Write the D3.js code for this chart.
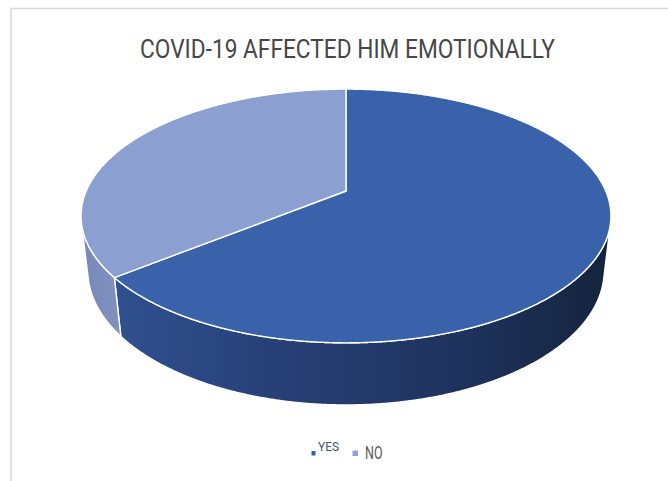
<!DOCTYPE html>
<html>
<head>
<meta charset="utf-8">
<script src="https://cdn.jsdelivr.net/npm/d3@7"></script>
<style>
  html, body { margin: 0; padding: 0; background: #ffffff; }
  svg { display: block; }
</style>
</head>
<body>
<svg id="chart" width="668" height="481"></svg>
<script>
// Survey answers, share of respondents (%)
const categories = ["YES", "NO"];
const values = [64.3, 35.7];
const chartTitle = "COVID-19 AFFECTED HIM EMOTIONALLY";

// Slice colours: top face and side wall
const topColors = ["#3a62aa", "#8c9fd1"];
const sideStops = [
  [["0%", "#30508f"], ["35%", "#263f75"], ["70%", "#1e325c"], ["100%", "#15233c"]],
  [["0%", "#7888b6"], ["100%", "#8292c0"]]
];
const legendColors = ["#3560a8", "#8fa3d6"];

const svg = d3.select("#chart");

// Chart area frame
svg.append("rect")
  .attr("x", 11).attr("y", 8.5)
  .attr("width", 740).attr("height", 520)
  .attr("fill", "none")
  .attr("stroke", "#d9d9d9")
  .attr("stroke-width", 1.6);

// Title
svg.append("text")
  .attr("x", 347.5).attr("y", 58)
  .attr("text-anchor", "middle")
  .attr("font-family", "Roboto, 'Liberation Sans', sans-serif")
  .attr("font-size", 25)
  .attr("fill", "#474747")
  .attr("textLength", 415)
  .attr("lengthAdjust", "spacingAndGlyphs")
  .text(chartTitle);

// ---- 3-D pie: unit cylinder seen in perspective from above ----
const view = {
  cx: 346, cy: 191,          // screen position of the pie centre
  focal: 1165,               // focal length in px
  tilt: 28 * Math.PI / 180,  // camera elevation
  dist: 4.485,               // camera distance (in radii)
  thickness: 0.241           // cylinder height (in radii)
};
const sT = Math.sin(view.tilt), cT = Math.cos(view.tilt);

// x: right, y: away from viewer, z: up
function project(x, y, z) {
  const yc = y * sT + z * cT;
  const zc = y * cT - z * sT + view.dist;
  return [view.cx + view.focal * x / zc, view.cy - view.focal * yc / zc];
}
// point on the rim at pie angle t (clockwise from 12 o'clock)
const rim = (t, z) => project(Math.sin(t), Math.cos(t), z);
const bottomZ = -view.thickness;

const arcs = d3.pie().sort(null).value(d => d)(values);

// Angular range where the outer wall faces the viewer
const step = Math.PI / 720;
function wallFacing(t) {
  const a = rim(t - step, 0), b = rim(t + step, 0);
  const top = rim(t, 0), bot = rim(t, bottomZ);
  const tx = b[0] - a[0], ty = b[1] - a[1];
  const gx = bot[0] - top[0], gy = bot[1] - top[1];
  return tx * gy - ty * gx < 0;
}
const samples = d3.range(0, 2 * Math.PI, step / 2).filter(wallFacing);
const visStart = d3.min(samples), visEnd = d3.max(samples);

function arcPoints(a, b, z) {
  const n = Math.max(2, Math.ceil((b - a) / step));
  return d3.range(n + 1).map(i => rim(a + (b - a) * i / n, z));
}

const line = d3.line().curve(d3.curveLinear);

// Gradients for the side walls
const defs = svg.append("defs");
sideStops.forEach((stops, i) => {
  const g = defs.append("linearGradient")
    .attr("id", "side-" + i)
    .attr("gradientUnits", "userSpaceOnUse")
    .attr("x1", i === 0 ? 112 : 80).attr("x2", i === 0 ? 612 : 122)
    .attr("y1", 0).attr("y2", 0);
  stops.forEach(([o, c]) => g.append("stop").attr("offset", o).attr("stop-color", c));
});

const pieG = svg.append("g");

// Side walls
arcs.forEach((p, i) => {
  const a = Math.max(p.startAngle, visStart);
  const b = Math.min(p.endAngle, visEnd);
  if (a >= b) return;
  const pts = arcPoints(a, b, 0).concat(arcPoints(a, b, bottomZ).reverse());
  pieG.append("path")
    .attr("d", line(pts) + "Z")
    .attr("fill", `url(#side-${i})`)
    .attr("stroke", "#ffffff")
    .attr("stroke-width", 1.4)
    .attr("stroke-linejoin", "round");
});

// Top faces
const centre = project(0, 0, 0);
arcs.forEach((p, i) => {
  const pts = [centre].concat(arcPoints(p.startAngle, p.endAngle, 0));
  pieG.append("path")
    .attr("d", line(pts) + "Z")
    .attr("fill", topColors[i])
    .attr("stroke", "#ffffff")
    .attr("stroke-width", 1.4)
    .attr("stroke-linejoin", "round");
});

// Legend
const legend = svg.append("g").attr("font-family", "Roboto, 'Liberation Sans', sans-serif");
legend.append("rect").attr("x", 311.5).attr("y", 451).attr("width", 4).attr("height", 4.5)
  .attr("fill", legendColors[0]);
legend.append("text").attr("x", 318).attr("y", 451)
  .attr("font-size", 13.5).attr("fill", "#44546a")
  .attr("textLength", 21).attr("lengthAdjust", "spacingAndGlyphs")
  .text(categories[0]);
legend.append("rect").attr("x", 352.5).attr("y", 450.5).attr("width", 5.5).attr("height", 5.5)
  .attr("fill", legendColors[1]);
legend.append("text").attr("x", 365).attr("y", 459)
  .attr("font-size", 18.5).attr("fill", "#595959")
  .attr("textLength", 17.5).attr("lengthAdjust", "spacingAndGlyphs")
  .text(categories[1]);
</script>
</body>
</html>
